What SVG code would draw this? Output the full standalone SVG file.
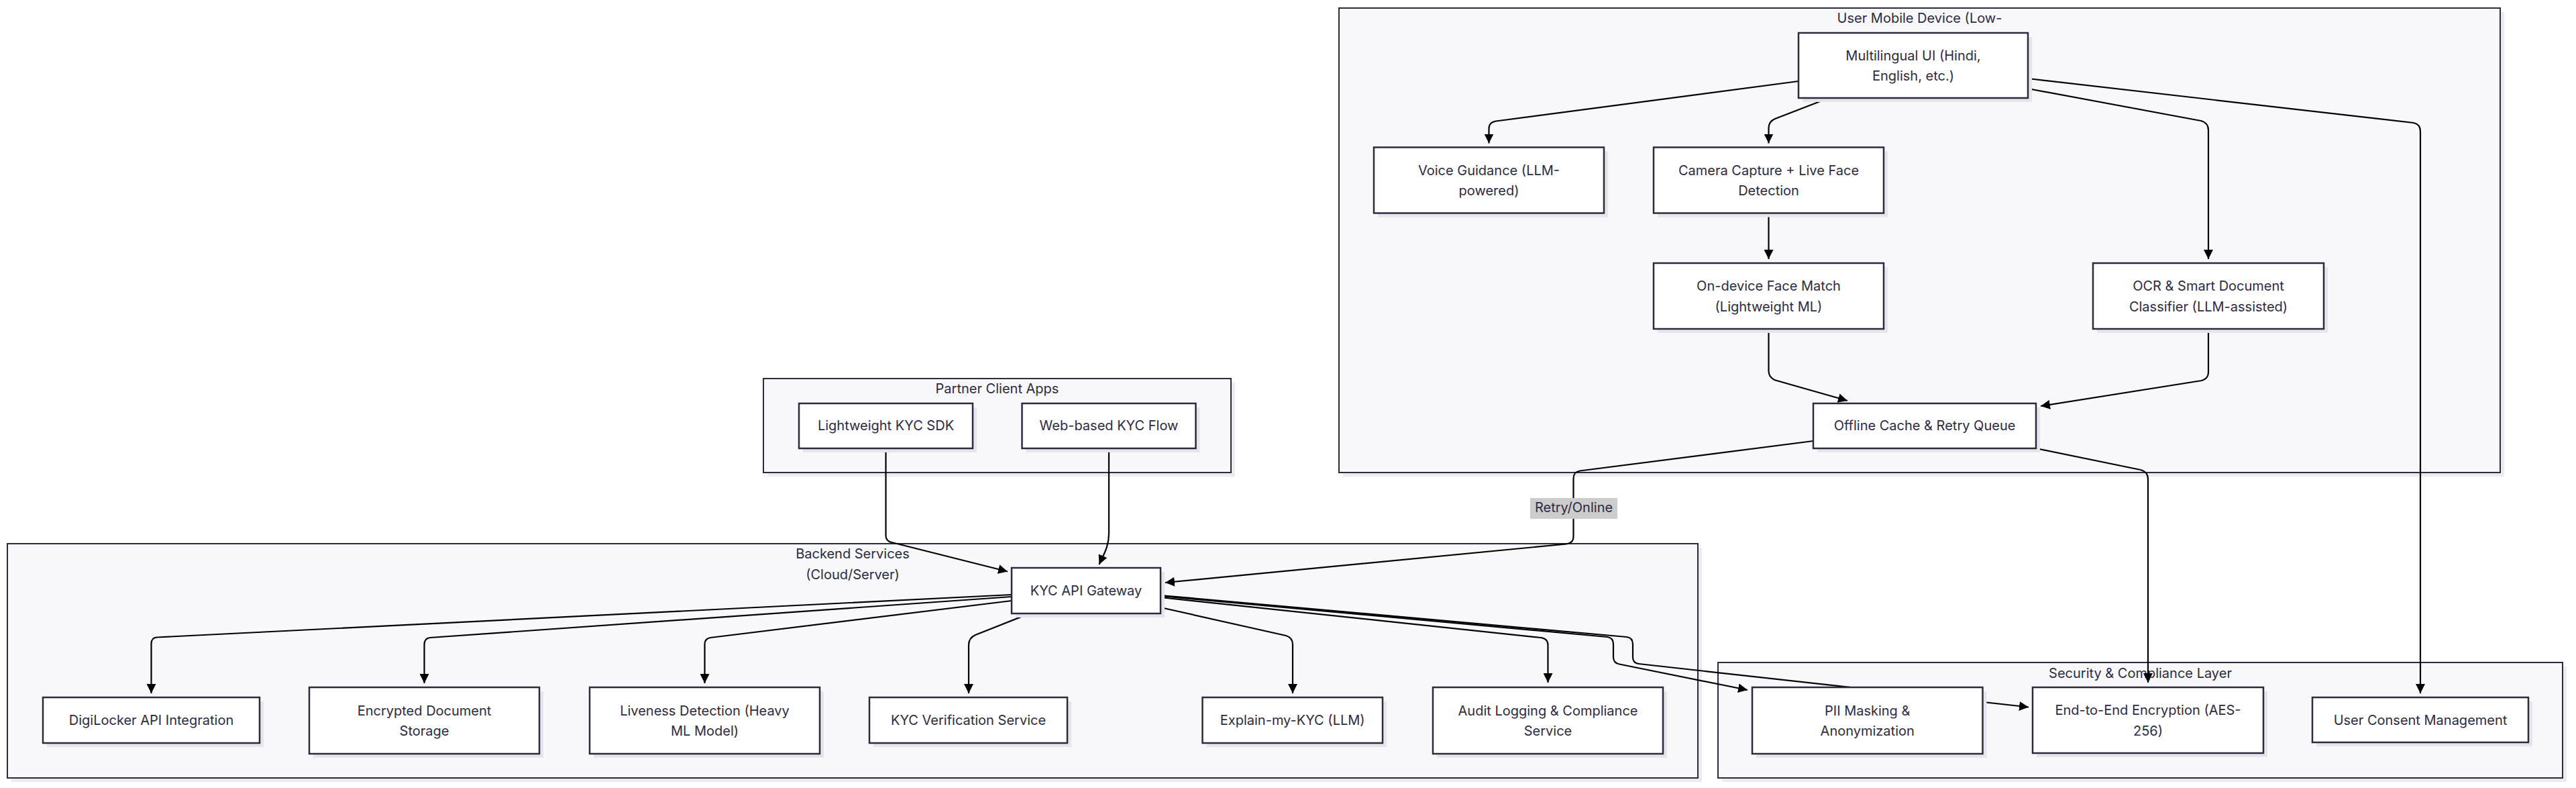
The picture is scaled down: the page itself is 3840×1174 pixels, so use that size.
<svg xmlns="http://www.w3.org/2000/svg" width="3840" height="1174" viewBox="0 0 3840 1174">
<defs>
<marker id="arr" viewBox="0 0 10 10" refX="10" refY="5" markerUnits="userSpaceOnUse" markerWidth="14" markerHeight="14" orient="auto">
<path d="M0,0 L10,5 L0,10 z" fill="#000"/>
</marker>
<style>
text{font-family:Inter,"Noto Sans","Liberation Sans",sans-serif;font-size:20px;fill:#2b2b44;text-anchor:middle}
.cl{fill:#f8f8fa;stroke:#2b2b40;stroke-width:2}
.csh{fill:#ececf0}
.nd{fill:#ffffff;stroke:#2b2b40;stroke-width:2.5}
.sh{fill:#e6e6ea}
.e{fill:none;stroke:#000;stroke-width:2.2;marker-end:url(#arr)}
.lb{fill:#cccccc}
</style>
</defs>
<rect width="3840" height="1174" fill="#ffffff"/>

<g id="cluster-mobile">
<rect class="csh" x="2002" y="18" width="1731" height="692"/>
<rect class="cl" x="1996" y="12" width="1731" height="692"/>
<text x="2861.5" y="34">User Mobile Device (Low-</text>
</g>
<g id="cluster-partner">
<rect class="csh" x="1144" y="570" width="697" height="140"/>
<rect class="cl" x="1138" y="564" width="697" height="140"/>
<text x="1486.5" y="586">Partner Client Apps</text>
</g>
<g id="cluster-backend">
<rect class="csh" x="17" y="816" width="2520" height="349"/>
<rect class="cl" x="11" y="810" width="2520" height="349"/>
<text x="1271" y="832">Backend Services</text>
<text x="1271" y="863">(Cloud/Server)</text>
</g>
<g id="cluster-security">
<rect class="csh" x="2567" y="993" width="1259" height="172"/>
<rect class="cl" x="2561" y="987" width="1259" height="172"/>
<text x="3190.5" y="1010">Security &amp; Compliance Layer</text>
</g>

<g id="connectors">
<path class="e" d="M2681,121 L2230,180.5 Q2219.5,182 2219.5,192 L2219.5,213.5"/>
<path class="e" d="M2725,146.5 L2646,177 Q2636.5,181 2636.5,191 L2636.5,213.5"/>
<path class="e" d="M2636.5,318 L2636.5,386"/>
<path class="e" d="M3023,132 L3281,180 Q3292,183 3292,194 L3292,386"/>
<path class="e" d="M3023,117 L3598,183 Q3608,185 3608,196 L3608,1033"/>
<path class="e" d="M2636.5,490 L2636.5,553 Q2636.5,561 2645,566 L2754,597"/>
<path class="e" d="M3292,490 L3292,555 Q3292,564 3282,567 L3042,605"/>
<path class="e" d="M2703,657 L2355,701.5 Q2345.5,703 2345.5,713 L2345.5,800 Q2345.5,809 2335,810.5 L1737,868"/>
<path class="e" d="M3035,668 L3191,700 Q3202,703 3202,714 L3202,1017"/>
<path class="e" d="M1320.5,668 L1320.5,798 Q1320.5,806 1329,808 L1502,851.5"/>
<path class="e" d="M1653,668 L1653,795 C1653,815 1645,826 1638.5,841"/>
<path class="e" d="M1508,886 L234,949.5 Q225.5,950 225.5,959 L225.5,1033"/>
<path class="e" d="M1508,889 L641,950 Q632.5,951 632.5,960 L632.5,1018"/>
<path class="e" d="M1508,895 L1059,950 Q1050.5,951.5 1050.5,960 L1050.5,1018"/>
<path class="e" d="M1535,914 L1454,946 Q1444,950.5 1444,961 L1444,1033"/>
<path class="e" d="M1730,905 L1917,947 Q1927,950 1927,960 L1927,1033"/>
<path class="e" d="M1730,890 L2297,950 Q2307.5,951.5 2307.5,961 L2307.5,1017"/>
<path class="e" d="M1730,888 L2396,949 Q2405,950 2405,960 L2405,979 Q2405,988 2414,989.5 L2605,1028"/>
<path class="e" d="M1730,887 L2425,949 Q2434,950 2434,960 L2434,979 Q2434,988 2443,989 L3024,1053.5"/>
</g>

<g id="edge-labels">
<rect class="lb" x="2281" y="742" width="130" height="31"/>
<text x="2346" y="763">Retry/Online</text>
</g>

<g id="node-multi">
<rect class="sh" x="2687" y="55" width="342" height="97"/>
<rect class="nd" x="2681" y="49" width="342" height="97"/>
<text x="2852" y="89.5">Multilingual UI (Hindi,</text>
<text x="2852" y="120">English, etc.)</text>
</g>
<g id="node-voice">
<rect class="sh" x="2054" y="225.5" width="343" height="98"/>
<rect class="nd" x="2048" y="219.5" width="343" height="98"/>
<text x="2219.5" y="260.5">Voice Guidance (LLM-</text>
<text x="2219.5" y="291">powered)</text>
</g>
<g id="node-camera">
<rect class="sh" x="2471" y="225.5" width="343" height="98"/>
<rect class="nd" x="2465" y="219.5" width="343" height="98"/>
<text x="2636.5" y="260.5">Camera Capture + Live Face</text>
<text x="2636.5" y="291">Detection</text>
</g>
<g id="node-ondevice">
<rect class="sh" x="2471" y="398" width="343" height="98"/>
<rect class="nd" x="2465" y="392" width="343" height="98"/>
<text x="2636.5" y="433">On-device Face Match</text>
<text x="2636.5" y="463.5">(Lightweight ML)</text>
</g>
<g id="node-ocr">
<rect class="sh" x="3126" y="398" width="344" height="98"/>
<rect class="nd" x="3120" y="392" width="344" height="98"/>
<text x="3292" y="433">OCR &amp; Smart Document</text>
<text x="3292" y="463.5">Classifier (LLM-assisted)</text>
</g>
<g id="node-offline">
<rect class="sh" x="2709" y="607" width="332" height="67"/>
<rect class="nd" x="2703" y="601" width="332" height="67"/>
<text x="2869" y="641">Offline Cache &amp; Retry Queue</text>
</g>
<g id="node-sdk">
<rect class="sh" x="1197" y="607" width="259" height="67"/>
<rect class="nd" x="1191" y="601" width="259" height="67"/>
<text x="1320.5" y="641">Lightweight KYC SDK</text>
</g>
<g id="node-web">
<rect class="sh" x="1529.5" y="607" width="259" height="67"/>
<rect class="nd" x="1523.5" y="601" width="259" height="67"/>
<text x="1653" y="641">Web-based KYC Flow</text>
</g>
<g id="node-gateway">
<rect class="sh" x="1514" y="852" width="222" height="68"/>
<rect class="nd" x="1508" y="846" width="222" height="68"/>
<text x="1619" y="887">KYC API Gateway</text>
</g>
<g id="node-digilocker">
<rect class="sh" x="70" y="1045" width="323" height="68"/>
<rect class="nd" x="64" y="1039" width="323" height="68"/>
<text x="225.5" y="1080">DigiLocker API Integration</text>
</g>
<g id="node-encrypted">
<rect class="sh" x="467" y="1030" width="343" height="99"/>
<rect class="nd" x="461" y="1024" width="343" height="99"/>
<text x="632.5" y="1065.5">Encrypted Document</text>
<text x="632.5" y="1096">Storage</text>
</g>
<g id="node-liveness">
<rect class="sh" x="885" y="1030" width="343" height="99"/>
<rect class="nd" x="879" y="1024" width="343" height="99"/>
<text x="1050.5" y="1065.5">Liveness Detection (Heavy</text>
<text x="1050.5" y="1096">ML Model)</text>
</g>
<g id="node-verification">
<rect class="sh" x="1302" y="1045" width="295" height="68"/>
<rect class="nd" x="1296" y="1039" width="295" height="68"/>
<text x="1443.5" y="1080">KYC Verification Service</text>
</g>
<g id="node-explain">
<rect class="sh" x="1798.5" y="1045" width="268.5" height="68"/>
<rect class="nd" x="1792.5" y="1039" width="268.5" height="68"/>
<text x="1926.7" y="1080">Explain-my-KYC (LLM)</text>
</g>
<g id="node-audit">
<rect class="sh" x="2142" y="1030" width="343" height="99"/>
<rect class="nd" x="2136" y="1024" width="343" height="99"/>
<text x="2307.5" y="1065.5">Audit Logging &amp; Compliance</text>
<text x="2307.5" y="1096">Service</text>
</g>
<g id="node-pii">
<rect class="sh" x="2618" y="1030" width="343.5" height="99"/>
<rect class="nd" x="2612" y="1024" width="343.5" height="99"/>
<text x="2783.7" y="1065.5">PII Masking &amp;</text>
<text x="2783.7" y="1096">Anonymization</text>
</g>
<g id="node-e2e">
<rect class="sh" x="3036" y="1030" width="344" height="98"/>
<rect class="nd" x="3030" y="1024" width="344" height="98"/>
<text x="3202" y="1065">End-to-End Encryption (AES-</text>
<text x="3202" y="1096">256)</text>
</g>
<g id="node-consent">
<rect class="sh" x="3453" y="1045" width="322" height="67"/>
<rect class="nd" x="3447" y="1039" width="322" height="67"/>
<text x="3608" y="1080">User Consent Management</text>
</g>
</svg>
